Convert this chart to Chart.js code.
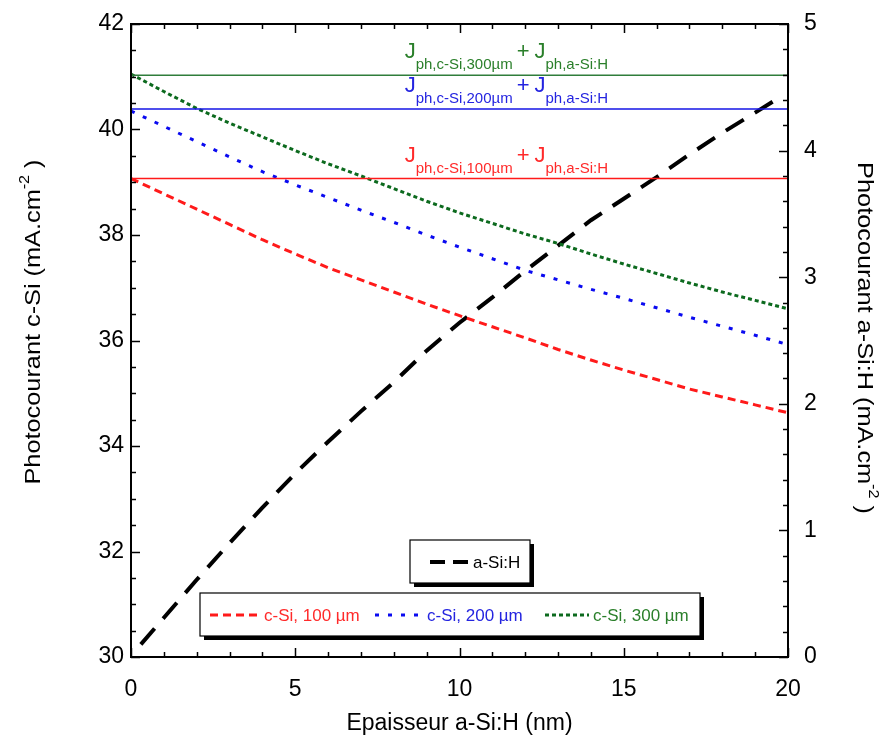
<!DOCTYPE html>
<html lang="fr">
<head>
<meta charset="UTF-8">
<title>Photocourant c-Si / a-Si:H</title>
<script src="https://cdn.jsdelivr.net/npm/chart.js"></script>
<style>
  html, body { margin: 0; padding: 0; background: #fff; }
</style>
</head>
<body>
<canvas id="chart" width="890" height="744"></canvas>
<script>
// epaisseur a-Si:H (nm)
const thickness = [0, 1, 2, 3, 4, 5, 6, 7, 8, 9, 10, 11, 12, 13, 14, 15, 16, 17, 18, 19, 20];
// photocourant c-Si (mA.cm-2)
const cSi100 = [39.07, 38.78, 38.49, 38.20, 37.91, 37.64, 37.38, 37.15, 36.92, 36.69, 36.47,
                36.26, 36.05, 35.83, 35.63, 35.44, 35.26, 35.08, 34.93, 34.78, 34.63];
const cSi200 = [40.35, 40.06, 39.77, 39.48, 39.20, 38.95, 38.71, 38.47, 38.24, 38.00, 37.77,
                37.55, 37.33, 37.15, 36.97, 36.80, 36.62, 36.44, 36.27, 36.10, 35.92];
const cSi300 = [41.05, 40.72, 40.40, 40.12, 39.86, 39.60, 39.35, 39.12, 38.88, 38.64, 38.42,
                38.22, 38.02, 37.84, 37.64, 37.45, 37.27, 37.09, 36.92, 36.76, 36.60];
// photocourant a-Si:H (mA.cm-2), axe de droite
const aSiThickness = [0.3, 1, 2, 3, 4, 5, 6, 7, 8, 9, 10, 11, 12, 13, 14, 15, 16, 17, 18, 19, 19.8];
const aSiH = [0.10, 0.31, 0.61, 0.90, 1.18, 1.45, 1.70, 1.94, 2.17, 2.42, 2.64,
              2.84, 3.05, 3.25, 3.45, 3.62, 3.79, 3.97, 4.14, 4.30, 4.43];
// Jph,c-Si + Jph,a-Si:H
const sumWafer = ['100µm', '200µm', '300µm'];
const sumLevels = [39.07, 40.39, 41.03];

const xTicks = [0, 5, 10, 15, 20];
const yTicks = [30, 32, 34, 36, 38, 40, 42];
const y2Ticks = [0, 1, 2, 3, 4, 5];

const RED = '#ff1a1a', BLUE = '#0a0af0', GREEN = '#0c6a1e';
const RED_T = '#ff2a2a', BLUE_T = '#2424e0', GREEN_T = '#2a7f2a';
const FONT = 'Arial, "Liberation Sans", sans-serif';

const pts = (xs, ys) => xs.map((x, i) => ({ x: x, y: ys[i] }));
const flat = v => [{ x: 0, y: v }, { x: 20, y: v }];

const series = [
  { label: 'c-Si, 100 µm', data: cSi100, color: RED, text: RED_T, dash: [8, 5] },
  { label: 'c-Si, 200 µm', data: cSi200, color: BLUE, text: BLUE_T, dash: [4, 9] },
  { label: 'c-Si, 300 µm', data: cSi300, color: GREEN, text: GREEN_T, dash: [4, 3] }
];
const sumColors = [RED, '#1414e6', '#2f7d3b'];
const sumTextColors = [RED_T, BLUE_T, GREEN_T];

const datasets = [];
sumLevels.forEach((v, i) => datasets.push({
  data: flat(v), borderColor: sumColors[i], borderWidth: 1.5, yAxisID: 'y'
}));
series.forEach(s => datasets.push({
  label: s.label, data: pts(thickness, s.data), borderColor: s.color,
  borderWidth: 3, borderDash: s.dash, yAxisID: 'y'
}));
datasets.push({
  label: 'a-Si:H', data: pts(aSiThickness, aSiH), borderColor: '#000',
  borderWidth: 4, borderDash: [21, 13], yAxisID: 'y2'
});

// ticks vers l'interieur, cadre, titres, annotations, legendes
const decor = {
  id: 'decor',
  afterDatasetsDraw(chart) {
    const { ctx, chartArea: a, scales } = chart;
    const x = scales.x, y = scales.y, y2 = scales.y2;
    ctx.save();
    ctx.strokeStyle = '#000';
    ctx.lineWidth = 1.5;
    const tick = (x1, y1, x2, y2_) => { ctx.beginPath(); ctx.moveTo(x1, y1); ctx.lineTo(x2, y2_); ctx.stroke(); };
    for (let v = 0; v <= 20.001; v += 1) {
      const px = Math.round(x.getPixelForValue(v)) + 0.5;
      const len = v % 5 === 0 ? 9 : 5;
      tick(px, a.bottom, px, a.bottom - len);
      tick(px, a.top, px, a.top + len);
    }
    for (let k = 0; k <= 24; k++) {
      const v = 30 + k * 0.5;
      const py = Math.round(y.getPixelForValue(v)) + 0.5;
      tick(a.left, py, a.left + (k % 4 === 0 ? 9 : 5), py);
    }
    for (let k = 0; k <= 25; k++) {
      const v = k * 0.2;
      const py = Math.round(y2.getPixelForValue(v)) + 0.5;
      tick(a.right, py, a.right - (k % 5 === 0 ? 9 : 5), py);
    }
    ctx.lineWidth = 2;
    ctx.strokeRect(a.left, a.top, a.right - a.left, a.bottom - a.top);

    // Jph,c-Si + Jph,a-Si:H
    sumLevels.forEach((v, i) => {
      const ly = y.getPixelForValue(v);
      let px = x.getPixelForValue(8.33);
      ctx.fillStyle = sumTextColors[i];
      ctx.textBaseline = 'alphabetic';
      ctx.textAlign = 'left';
      ctx.font = '22px ' + FONT;
      ctx.fillText('J', px, ly - 17);
      px += ctx.measureText('J').width;
      ctx.font = '15px ' + FONT;
      const s1 = 'ph,c-Si,' + sumWafer[i];
      ctx.fillText(s1, px, ly - 6);
      px += ctx.measureText(s1).width + 4;
      ctx.font = '22px ' + FONT;
      ctx.fillText('+', px, ly - 17);
      px += ctx.measureText('+').width + 5;
      ctx.fillText('J', px, ly - 17);
      px += ctx.measureText('J').width;
      ctx.font = '15px ' + FONT;
      ctx.fillText('ph,a-Si:H', px, ly - 6);
    });

    // legendes
    const box = (l, t, w, h) => {
      ctx.fillStyle = '#000';
      ctx.fillRect(l + 4, t + 4, w, h);
      ctx.fillStyle = '#fff';
      ctx.fillRect(l, t, w, h);
      ctx.lineWidth = 1.2;
      ctx.strokeStyle = '#000';
      ctx.strokeRect(l, t, w, h);
    };
    const sample = (x1, x2, yy, color, dash, lw) => {
      ctx.save();
      ctx.strokeStyle = color; ctx.lineWidth = lw; ctx.setLineDash(dash);
      ctx.beginPath(); ctx.moveTo(x1, yy); ctx.lineTo(x2, yy); ctx.stroke();
      ctx.restore();
    };
    ctx.font = '17px ' + FONT;
    ctx.textBaseline = 'middle';
    ctx.textAlign = 'left';
    box(410, 540, 120, 43);
    sample(430, 468, 562, '#000', [15, 8], 4);
    ctx.fillStyle = '#000';
    ctx.fillText('a-Si:H', 473, 563);

    box(200, 593, 500, 43);
    const sx = [[210, 260, 264], [375, 422, 427], [545, 589, 593]];
    series.forEach((s, i) => {
      sample(sx[i][0], sx[i][1], 615, s.color, s.dash, 3);
      ctx.fillStyle = s.text;
      ctx.fillText(s.label, sx[i][2], 616);
    });

    // titres des axes
    ctx.fillStyle = '#000';
    ctx.font = '23px ' + FONT;
    ctx.textAlign = 'center';
    ctx.textBaseline = 'alphabetic';
    ctx.fillText('Epaisseur a-Si:H (nm)', (a.left + a.right) / 2, 730);

    const vtitle = (main, cx, cy, rot) => {
      ctx.save();
      ctx.translate(cx, cy);
      ctx.rotate(rot);
      ctx.scale(1.15, 1);
      ctx.font = '22px ' + FONT;
      const w1 = ctx.measureText(main).width;
      ctx.font = '14px ' + FONT;
      const w2 = ctx.measureText('-2').width;
      ctx.font = '22px ' + FONT;
      const w3 = ctx.measureText(' )').width;
      let px = -(w1 + w2 + w3) / 2;
      ctx.textAlign = 'left';
      ctx.fillText(main, px, 0);
      px += w1;
      ctx.font = '14px ' + FONT;
      ctx.fillText('-2', px, -11);
      px += w2;
      ctx.font = '22px ' + FONT;
      ctx.fillText(' )', px, 0);
      ctx.restore();
    };
    vtitle('Photocourant c-Si (mA.cm', 40, 322, -Math.PI / 2);
    vtitle('Photocourant a-Si:H (mA.cm', 858, 338, Math.PI / 2);
    ctx.restore();
  }
};

const noVPad = s => { s.paddingTop = 0; s.paddingBottom = 0; };
const tickFont = { family: FONT, size: 23 };
new Chart(document.getElementById('chart'), {
  type: 'line',
  data: { datasets: datasets },
  options: {
    responsive: false,
    devicePixelRatio: 1,
    animation: false,
    layout: { padding: { top: 24, left: 0, right: 0, bottom: 0 } },
    elements: { point: { radius: 0 }, line: { tension: 0, borderCapStyle: 'butt' } },
    plugins: { legend: { display: false }, tooltip: { enabled: false } },
    scales: {
      x: {
        type: 'linear', min: 0, max: 20,
        afterBuildTicks: s => { s.ticks = xTicks.map(v => ({ value: v })); },
        afterFit: s => { s.height = 87; s.paddingLeft = 0; s.paddingRight = 0; },
        grid: { display: false, drawTicks: false }, border: { display: false },
        ticks: { font: tickFont, color: '#000', padding: 19, maxRotation: 0 }
      },
      y: {
        position: 'left', min: 30, max: 42,
        afterBuildTicks: s => { s.ticks = yTicks.map(v => ({ value: v })); },
        afterFit: s => { s.width = 131; noVPad(s); },
        grid: { display: false, drawTicks: false }, border: { display: false },
        ticks: { font: tickFont, color: '#000', padding: 7 }
      },
      y2: {
        position: 'right', min: 0, max: 5,
        afterBuildTicks: s => { s.ticks = y2Ticks.map(v => ({ value: v })); },
        afterFit: s => { s.width = 102; noVPad(s); },
        grid: { display: false, drawTicks: false }, border: { display: false },
        ticks: { font: tickFont, color: '#000', padding: 16 }
      }
    }
  },
  plugins: [decor]
});
</script>
</body>
</html>
